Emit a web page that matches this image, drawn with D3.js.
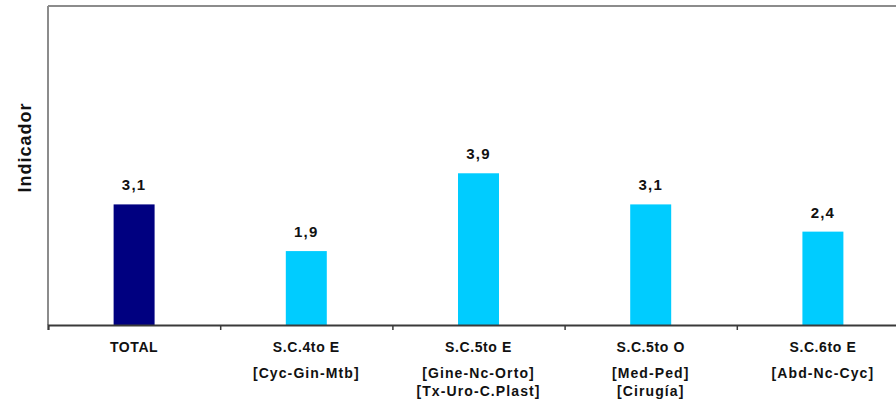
<!DOCTYPE html>
<html>
<head>
<meta charset="utf-8">
<script src="https://cdnjs.cloudflare.com/ajax/libs/d3/7.8.5/d3.min.js"></script>
<style>
  html, body { margin: 0; padding: 0; background: #ffffff; }
  svg { display: block; }
  text { font-family: "Liberation Sans", Arial, sans-serif; font-weight: bold; fill: #111; }
</style>
</head>
<body>
<svg id="chart" width="896" height="405"></svg>
<script>
// ---- data ----
const categories = ["TOTAL", "S.C.4to E", "S.C.5to E", "S.C.5to O", "S.C.6to E"];
const subLabels = [
  [],
  ["[Cyc-Gin-Mtb]"],
  ["[Gine-Nc-Orto]", "[Tx-Uro-C.Plast]"],
  ["[Med-Ped]", "[Cirugía]"],
  ["[Abd-Nc-Cyc]"]
];
const values = [3.1, 1.9, 3.9, 3.1, 2.4];
const barColors = ["#000080", "#00CCFF", "#00CCFF", "#00CCFF", "#00CCFF"];
const yTitle = "Indicador";

// ---- layout ----
const svg = d3.select("#chart");
const plot = { left: 48, top: 6, bottom: 325, right: 909 };

const x = d3.scaleBand()
  .domain(categories)
  .range([plot.left, plot.right])
  .paddingInner(0.762)
  .paddingOuter(0.381);

const y = d3.scaleLinear()
  .domain([0, 8.2])
  .range([plot.bottom, plot.top]);

const fmt = v => d3.format(".1f")(v).replace(".", ",");

// plot frame (top + left, grey)
svg.append("line")
  .attr("x1", plot.left).attr("x2", plot.right)
  .attr("y1", plot.top).attr("y2", plot.top)
  .attr("stroke", "#8c8c8c").attr("stroke-width", 2);
svg.append("line")
  .attr("x1", plot.left).attr("x2", plot.left)
  .attr("y1", plot.top).attr("y2", plot.bottom)
  .attr("stroke", "#8c8c8c").attr("stroke-width", 2);

// bars
const step = x.step();
svg.append("g").selectAll("rect")
  .data(values)
  .join("rect")
  .attr("x", (d, i) => x(categories[i]))
  .attr("width", x.bandwidth())
  .attr("y", d => y(d))
  .attr("height", d => y(0) - y(d))
  .attr("fill", (d, i) => barColors[i]);

// data labels
svg.append("g").selectAll("text")
  .data(values)
  .join("text")
  .attr("x", (d, i) => x(categories[i]) + x.bandwidth() / 2)
  .attr("y", d => y(d) - 14)
  .attr("text-anchor", "middle")
  .attr("font-size", 15)
  .attr("letter-spacing", 1.2)
  .text(d => fmt(d));

// x axis: ticks at category boundaries
const xAxisScale = d3.scaleLinear().domain([0, categories.length]).range([plot.left, plot.left + categories.length * step]);
const xAxis = d3.axisBottom(xAxisScale)
  .tickValues(d3.range(categories.length + 1))
  .tickSize(5)
  .tickFormat("");
const gx = svg.append("g")
  .attr("transform", `translate(0,${plot.bottom})`)
  .call(xAxis);
gx.select(".domain").attr("stroke", "#3a3a3a").attr("stroke-width", 2);
gx.selectAll(".tick line").attr("stroke", "#3a3a3a").attr("stroke-width", 1.5);

// category labels
const catG = svg.append("g");
categories.forEach((c, i) => {
  const cx = x(c) + x.bandwidth() / 2;
  catG.append("text")
    .attr("x", cx).attr("y", 352)
    .attr("text-anchor", "middle")
    .attr("font-size", 14)
    .attr("letter-spacing", 0.6)
    .text(c);
  subLabels[i].forEach((s, j) => {
    catG.append("text")
      .attr("x", cx).attr("y", 378 + j * 18)
      .attr("text-anchor", "middle")
      .attr("font-size", 14)
      .attr("letter-spacing", 1.1)
      .text(s);
  });
});

// y title
svg.append("text")
  .attr("transform", `translate(31,147.5) rotate(-90)`)
  .attr("text-anchor", "middle")
  .attr("font-size", 18)
  .attr("letter-spacing", 1)
  .text(yTitle);
</script>
</body>
</html>
